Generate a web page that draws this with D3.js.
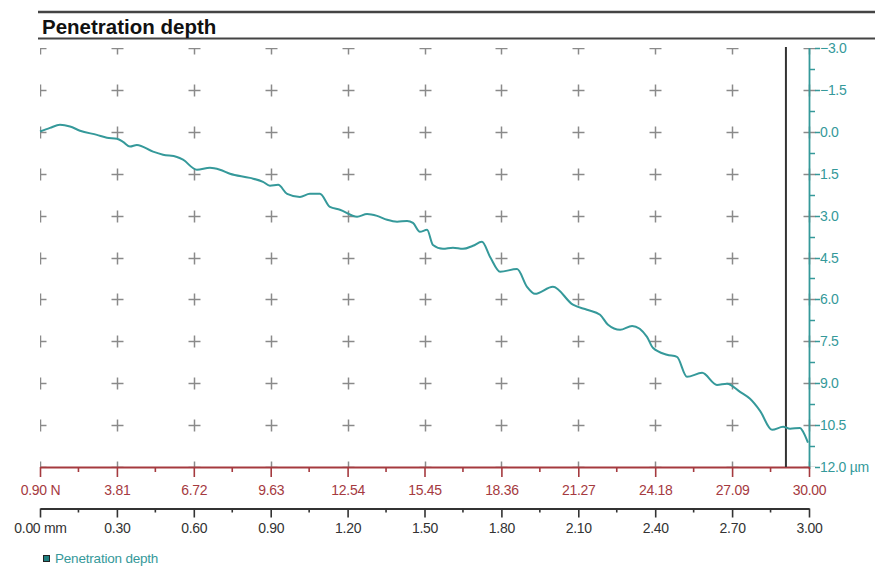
<!DOCTYPE html>
<html><head><meta charset="utf-8">
<script src="https://cdn.jsdelivr.net/npm/d3@7"></script>
<style>body{margin:0;background:#fff}svg{display:block;font-family:"Liberation Sans",Arial,sans-serif}</style>
</head><body>
<svg id="c" width="875" height="567"></svg>
<script>
// ---- data ----
const title = "Penetration depth";
const distanceMm = [0.000,0.039,0.078,0.117,0.156,0.222,0.261,0.300,0.324,0.351,0.378,0.441,0.480,0.534,0.558,0.612,0.663,0.702,0.741,0.819,0.870,0.897,0.929,0.964,1.014,1.053,1.092,1.131,1.170,1.237,1.276,1.315,1.354,1.393,1.432,1.455,1.482,1.510,1.533,1.572,1.611,1.650,1.689,1.724,1.756,1.795,1.861,1.900,1.931,2.001,2.079,2.134,2.185,2.216,2.263,2.310,2.368,2.391,2.446,2.485,2.524,2.583,2.641,2.680,2.731,2.770,2.809,2.856,2.899,2.926,2.965,2.977,2.996];
const depthUm = [-0.01,-0.14,-0.25,-0.19,-0.04,0.11,0.21,0.25,0.36,0.53,0.47,0.71,0.82,0.90,1.00,1.36,1.29,1.36,1.50,1.65,1.79,1.93,1.90,2.22,2.33,2.22,2.22,2.69,2.79,3.04,2.94,3.01,3.15,3.22,3.19,3.26,3.58,3.51,4.05,4.19,4.15,4.19,4.08,3.94,4.48,5.01,4.91,5.55,5.80,5.55,6.19,6.37,6.55,6.91,7.09,6.95,7.34,7.73,7.98,8.06,8.77,8.63,9.06,9.02,9.31,9.56,9.99,10.67,10.56,10.63,10.60,10.74,11.13];
const distanceTicks = [0.00,0.30,0.60,0.90,1.20,1.50,1.80,2.10,2.40,2.70,3.00];
const forceTicks = [0.90,3.81,6.72,9.63,12.54,15.45,18.36,21.27,24.18,27.09,30.00];
const depthTicks = [-3.0,-1.5,0.0,1.5,3.0,4.5,6.0,7.5,9.0,10.5,12.0];
const cursorMm = 2.91;

// ---- scales ----
const X0 = 40, X1 = 809, Y0 = 48, Y1 = 467;
const x = d3.scaleLinear().domain([0, 3]).range([X0, X1]);
const xf = d3.scaleLinear().domain([0.90, 30.00]).range([X0, X1]);
const y = d3.scaleLinear().domain([-3, 12]).range([Y0, Y1]);

const svg = d3.select("#c");
const teal = "#35999a", red = "#a53a3f", gray = "#8a8a8a", dark = "#333";
const FS = 14;

// title band
svg.append("line").attr("x1", 38).attr("x2", 875).attr("y1", 12).attr("y2", 12).attr("stroke", "#444").attr("stroke-width", 2.5);
svg.append("line").attr("x1", 38).attr("x2", 875).attr("y1", 38.5).attr("y2", 38.5).attr("stroke", "#444").attr("stroke-width", 2);
svg.append("text").attr("x", 42).attr("y", 34).attr("font-size", 20.5).attr("font-weight", "bold").attr("fill", "#111").text(title);

// clip
svg.append("clipPath").attr("id", "clip").append("rect").attr("x", X0).attr("y", Y0).attr("width", 830 - X0).attr("height", Y1 - Y0);

// grid crosses
const gx = svg.append("g").attr("clip-path", "url(#clip)").attr("stroke", gray).attr("stroke-width", 1.5);
const arm = 6;
distanceTicks.forEach(dx => depthTicks.forEach(dv => {
  const cx = Math.round(x(dx)) + 0.5, cy = Math.round(y(dv)) + 0.5;
  gx.append("line").attr("x1", cx - arm).attr("x2", cx + arm).attr("y1", cy).attr("y2", cy);
  gx.append("line").attr("x1", cx).attr("x2", cx).attr("y1", cy - arm).attr("y2", cy + arm);
}));

// right depth axis
const ra = svg.append("g");
ra.append("line").attr("x1", X1 + 0.5).attr("x2", X1 + 0.5).attr("y1", Y0).attr("y2", Y1 + 2).attr("stroke", teal).attr("stroke-width", 1.8);
depthTicks.forEach((v, i) => {
  const cy = Math.round(y(v)) + 0.5;
  ra.append("line").attr("x1", X1 + 6).attr("x2", X1 + 11).attr("y1", cy).attr("y2", cy).attr("stroke", teal).attr("stroke-width", 1.5);
  if (i < depthTicks.length - 1) {
    const my = Math.round(y(v + 0.75)) + 0.5;
    ra.append("line").attr("x1", X1).attr("x2", X1 + 6).attr("y1", my).attr("y2", my).attr("stroke", teal).attr("stroke-width", 1.5);
  }
  ra.append("text").attr("x", X1 + 11).attr("y", cy).attr("dy", "0.35em").attr("font-size", FS).attr("fill", teal).attr("letter-spacing", -0.3)
    .text(d3.format(".1f")(v) + (i === depthTicks.length - 1 ? " µm" : ""));
});

// force axis (red)
const fa = svg.append("g").attr("transform", `translate(0,${Y1})`)
  .call(d3.axisBottom(xf).tickValues(forceTicks).tickSize(10).tickSizeOuter(0).tickPadding(8)
    .tickFormat((d, i) => d3.format(".2f")(d) + (i === 0 ? " N" : "")));
fa.select(".domain").attr("stroke", red).attr("stroke-width", 2);
fa.selectAll(".tick line").attr("stroke", red).attr("stroke-width", 1.6);
fa.selectAll(".tick text").attr("fill", red).attr("font-size", FS).attr("letter-spacing", -0.3).attr("font-family", "Liberation Sans, Arial, sans-serif");
const fminor = forceTicks.slice(0, -1).map((d, i) => (d + forceTicks[i + 1]) / 2);
fa.selectAll(".minor").data(fminor).join("line").attr("x1", d => xf(d)).attr("x2", d => xf(d)).attr("y1", 0).attr("y2", 5).attr("stroke", red).attr("stroke-width", 1.6);

// distance axis (black)
const da = svg.append("g").attr("transform", `translate(0,508.5)`)
  .call(d3.axisBottom(x).tickValues(distanceTicks).tickSize(9).tickSizeOuter(0).tickPadding(6)
    .tickFormat((d, i) => d3.format(".2f")(d) + (i === 0 ? " mm" : "")));
da.select(".domain").attr("stroke", dark).attr("stroke-width", 2);
da.selectAll(".tick line").attr("stroke", dark).attr("stroke-width", 1.6);
da.selectAll(".tick text").attr("fill", dark).attr("font-size", FS).attr("letter-spacing", -0.3).attr("font-family", "Liberation Sans, Arial, sans-serif");
const dminor = distanceTicks.slice(0, -1).map((d, i) => (d + distanceTicks[i + 1]) / 2);
da.selectAll(".minor").data(dminor).join("line").attr("x1", d => x(d)).attr("x2", d => x(d)).attr("y1", 0).attr("y2", 4).attr("stroke", dark).attr("stroke-width", 1.6);

// cursor line
svg.append("line").attr("x1", x(cursorMm)).attr("x2", x(cursorMm)).attr("y1", Y0 - 1).attr("y2", Y1).attr("stroke", dark).attr("stroke-width", 2);

// data line
const pts = distanceMm.map((d, i) => [d, depthUm[i]]);
svg.append("path").datum(pts)
  .attr("d", d3.line().x(d => x(d[0])).y(d => y(d[1])).curve(d3.curveMonotoneX))
  .attr("fill", "none").attr("stroke", teal).attr("stroke-width", 2);

// legend
svg.append("rect").attr("x", 43.5).attr("y", 555.5).attr("width", 6).attr("height", 6).attr("fill", "#1f7f7f").attr("stroke", "#222").attr("stroke-width", 1);
svg.append("text").attr("x", 55).attr("y", 558.5).attr("dy", "0.35em").attr("font-size", 13.5).attr("fill", teal).attr("letter-spacing", -0.2).text(title);
</script>
</body></html>
